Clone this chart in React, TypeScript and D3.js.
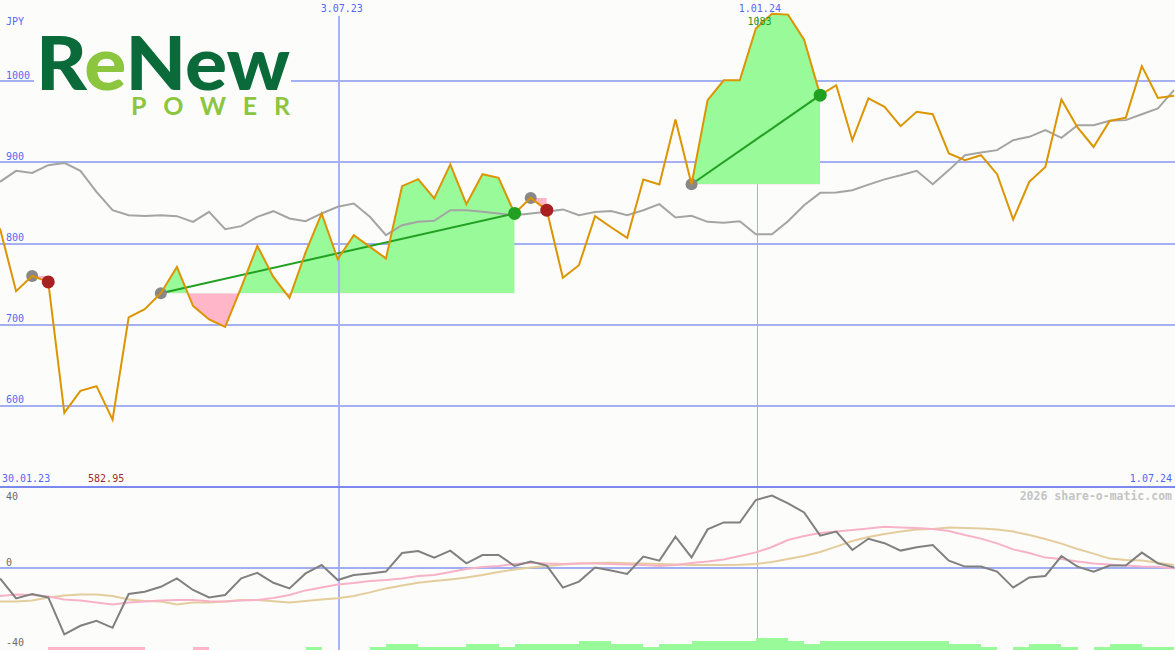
import React from "react";
import * as d3 from "d3";

const W = 1175;
const H = 650;
const BG = "#fcfdfb";

// weekly dates (Mondays)
const firstWeek = new Date(2023, 1, 6);
const lastWeek = new Date(2024, 6, 1);
const weeks: Date[] = d3.timeMonday.range(firstWeek, d3.timeDay.offset(lastWeek, 1));

// weekly close, JPY
const price = [
  818.5, 741.3, 760, 752.7, 591.4, 618.5, 624.2, 582.95, 708.9, 719.1,
  738.8, 771.2, 723.2, 706.5, 697.3, 745.8, 797.1, 758.9, 733, 789,
  837, 780.7, 810.3, 795.9, 781.6, 870.6, 879.3, 855.5, 897.4, 848.5,
  885.4, 880.9, 837, 856.2, 841.1, 757.7, 773.3, 833.7, 820, 807,
  878.9, 872.7, 952.8, 873, 976.6, 1001, 1001, 1064.9, 1083, 1082,
  1051, 982.8, 995, 927.3, 978.7, 968.3, 944.6, 962.2, 959.3, 910.9,
  902.7, 908.8, 885.4, 829.6, 876, 894.4, 977.4, 943, 919, 951.1,
  954.8, 1018.5, 979.4, 981.9,
];

// long moving average (gray)
const average = [
  876, 889.5, 887, 896.5, 899.3, 889.5, 863.6, 841, 834.9, 834,
  834.9, 833.7, 826.7, 839, 817.7, 821.4, 832.9, 839.8, 830.8, 827.5,
  837, 845.2, 849.3, 832.9, 810.3, 822.6, 826.7, 827.9, 841, 841,
  839, 837, 834.9, 837, 839, 842, 834.9, 838.8, 839.9, 834.9,
  841, 848.5, 832.1, 834.1, 826.7, 825.5, 827.5, 811.5, 811.5, 827.5,
  847.2, 862.4, 862.7, 865.7, 872.5, 879, 884, 889.5, 873, 890.4,
  908.8, 912.2, 915, 927.3, 931.4, 939.6, 930.1, 945.8, 945.8, 951.1,
  952, 959.3, 966.4, 988.9,
];

// oscillator panel
const momentum = [
  -5.2, -15.2, -13, -14.7, -33.2, -28.9, -26.4, -29.9, -13, -11.9,
  -9.4, -5.2, -11, -14.7, -13.5, -5.2, -2.4, -7.4, -10.2, -2.7,
  1.5, -6, -3.5, -2.7, -1.8, 7.5, 8.5, 5.2, 8.7, 2.3,
  6.5, 6.5, 1, 3.2, 1.2, -9.8, -6.8, 0.2, -1.3, -3,
  5.7, 3.7, 15.7, 5.3, 19.3, 22.8, 22.7, 34, 36.2, 32.3,
  27.8, 16.2, 18.2, 9, 14.6, 12.4, 8.7, 10.4, 11.5, 3.7,
  0.7, 0.7, -1.8, -9.8, -4.7, -4, 6, 0.7, -1.8, 1.2,
  1.2, 7.7, 2.3, 0.3,
];
const fastSignal = [
  -14, -13.3, -13.5, -14.3, -15.7, -16.3, -17.3, -18.3, -17.3, -16.8,
  -16.3, -16, -16, -16.6, -16.8, -16.3, -16, -15, -13.5, -11.2,
  -9.7, -8.2, -7.5, -6.5, -6, -5.2, -4, -3.5, -2, -0.5,
  0.5, 1, 2, 2.6, 2.2, 2, 2.2, 2.3, 2, 1.8,
  1.5, 1, 1.5, 2.5, 3.2, 4.2, 6, 7.8, 10.5, 14,
  16, 17.5, 18.2, 19, 19.8, 20.6, 20.3, 20, 19.5, 18.5,
  16.5, 14.7, 12.3, 9.3, 7.5, 5.2, 4.5, 3.3, 2.3, 1.7,
  1.2, 0.8, 0.6, -0.2,
];
const slowSignal = [
  -16.8, -16.8, -16.3, -14.8, -13.8, -13.3, -13.3, -14, -15.7, -16.5,
  -16.8, -18.2, -17.3, -17.2, -16.8, -16, -16, -16.6, -17.2, -16.5,
  -15.8, -15.1, -14, -12.2, -10.2, -8.7, -7.4, -6.5, -5.7, -4.8,
  -3.5, -2, -0.7, 0.2, 1, 1.7, 2.2, 2.5, 2.6, 2.4,
  2.2, 2, 1.8, 1.5, 1.5, 1.5, 1.6, 2, 3, 4.5,
  6, 8, 10.7, 13.5, 15.5, 17, 18.3, 19.2, 19.5, 20.2,
  20, 19.8, 19.2, 18.2, 16.5, 14.5, 12.2, 9.5, 7.2, 4.7,
  4, 3.7, 2.6, 1.5,
];
// trend strength per week interval (+ green, - pink)
const trendBars = [
  0, 0, 0, -1, -1, -1, -1, -1, -1, 0, 0, 0, -1, 0, 0, 0, 0, 0, 0, 1,
  0, 0, 0, 1, 2, 2, 1, 1, 1, 2, 2, 1, 2, 2, 2, 2, 3, 3, 2, 2,
  1, 2, 2, 3, 3, 3, 3, 4, 4, 3, 2, 3, 3, 3, 3, 3, 3, 3, 3, 2,
  2, 1, 0, 1, 2, 2, 1, 0, 1, 2, 2, 1, 1,
];

// signals (week indices)
const signalStart = [2, 10, 33, 43];
const signalEnd = [3, 32, 34, 51];

const priceTicks = [600, 700, 800, 900, 1000];
const oscTicks = [40, 0, -40];
const dateLines = [new Date(2023, 6, 3), new Date(2024, 0, 1)];
const dateLineLabels = ["3.07.23", "1.01.24"];
const rangeLabels = ["30.01.23", "1.07.24"];

const MONO = "'DejaVu Sans Mono', monospace";

export default function App() {
  const x = d3.scaleTime().domain([firstWeek, lastWeek]).range([0, 1174]);
  const yP = d3.scaleLinear().domain([500, 1100]).range([487, 0]);
  const yO = d3.scaleLinear().domain([-40, 40]).range([648, 488]);
  const yB = d3.scaleLinear().domain([0, 4]).range([650, 638]);

  const pts = weeks.map((d, i) => ({ d, v: price[i] }));
  const priceLine = d3.line<{ d: Date; v: number }>().x((p) => x(p.d)).y((p) => yP(p.v));
  const avgLine = d3
    .line<number>()
    .x((_, i) => x(weeks[i]))
    .y((v) => yP(v));
  const oscLine = d3
    .line<number>()
    .x((_, i) => x(weeks[i]))
    .y((v) => yO(v));

  const iMax = d3.maxIndex(price);
  const iMin = d3.minIndex(price);

  const signals = signalStart.map((s, k) => {
    const e = signalEnd[k];
    const xs = x(weeks[s]);
    const xe = x(weeks[e]);
    const base = yP(price[s]);
    const gain = price[e] > price[s];
    const area = d3
      .area<{ d: Date; v: number }>()
      .x((p) => x(p.d))
      .y0(base)
      .y1((p) => yP(p.v))(pts.slice(s, e + 1));
    return { s, e, xs, xe, base, gain, area, yEnd: yP(price[e]) };
  });

  return (
    <svg
      width={W}
      height={H}
      style={{ position: "absolute", left: 0, top: 0, display: "block" }}
    >
      <defs>
        {signals.map((g, k) => (
          <React.Fragment key={k}>
            <clipPath id={`up${k}`}>
              <rect x={g.xs} y={0} width={g.xe - g.xs} height={g.base} />
            </clipPath>
            <clipPath id={`dn${k}`}>
              <rect x={g.xs} y={g.base} width={g.xe - g.xs} height={487 - g.base} />
            </clipPath>
          </React.Fragment>
        ))}
      </defs>
      <rect width={W} height={H} fill={BG} />

      {/* price grid */}
      {priceTicks.map((t) => (
        <line
          key={t}
          x1={0}
          x2={W}
          y1={Math.round(yP(t))}
          y2={Math.round(yP(t))}
          stroke="#a4b0f2"
          strokeWidth={2}
          shapeRendering="crispEdges"
        />
      ))}

      {/* year line (thin) */}
      <line
        x1={Math.round(x(dateLines[1])) + 1.5}
        x2={Math.round(x(dateLines[1])) + 1.5}
        y1={16}
        y2={H}
        stroke="#a6ade4"
        strokeWidth={1}
      />

      {/* signal fills */}
      {signals.map((g, k) => (
        <g key={k}>
          <path d={g.area || ""} fill="#98fa98" clipPath={`url(#up${k})`} />
          <path d={g.area || ""} fill="#ffb6c8" clipPath={`url(#dn${k})`} />
        </g>
      ))}

      {/* half-year line */}
      <line
        x1={Math.round(x(dateLines[0])) + 1}
        x2={Math.round(x(dateLines[0])) + 1}
        y1={16}
        y2={H}
        stroke="#a8b3f4"
        strokeWidth={2}
        shapeRendering="crispEdges"
      />

      {/* moving average */}
      <path d={avgLine(average) || ""} fill="none" stroke="#a4a4a4" strokeWidth={2} />

      {/* trend lines */}
      {signals
        .filter((g) => g.gain)
        .map((g, k) => (
          <line key={k} x1={g.xs} y1={g.base} x2={g.xe} y2={g.yEnd} stroke="#22a022" strokeWidth={2} />
        ))}

      {/* start dots under the line */}
      {signals.map((g, k) => (
        <circle key={k} cx={g.xs} cy={g.base} r={6} fill="#888888" />
      ))}

      {/* price */}
      <path d={priceLine(pts) || ""} fill="none" stroke="#dc9400" strokeWidth={2} strokeLinejoin="miter" />

      {/* end dots */}
      {signals.map((g, k) => (
        <circle key={k} cx={g.xe} cy={g.yEnd} r={6.5} fill={g.gain ? "#22a022" : "#a82020"} />
      ))}

      {/* logo */}
      <rect x={34} y={30} width={257} height={92} fill={BG} />
      <text fontFamily="Lato, 'Noto Sans', sans-serif">
        <tspan
          x={36}
          y={90}
          fontWeight={900}
          fontSize={74}
          textLength={254}
          lengthAdjust="spacingAndGlyphs"
          fill="#0b6a3a"
        >
          R<tspan fill="#8cc63f">e</tspan>New
        </tspan>
        <tspan
          x={131}
          y={115}
          fontWeight={700}
          fontSize={25}
          textLength={159}
          lengthAdjust="spacing"
          fill="#8cc63f"
        >
          POWER
        </tspan>
      </text>

      {/* price axis labels */}
      <text x={6} y={25} fontFamily={MONO} fontSize={10} fill="#5566f4">
        JPY
      </text>
      {priceTicks.map((t) => (
        <text key={t} x={6} y={yP(t) - 2.5} fontFamily={MONO} fontSize={10} fill="#5566f4">
          {t}
        </text>
      ))}
      {dateLines.map((d, i) => (
        <text
          key={i}
          x={x(d) + 4}
          y={12}
          textAnchor="middle"
          fontFamily={MONO}
          fontSize={10}
          fill="#5566f4"
        >
          {dateLineLabels[i]}
        </text>
      ))}
      <text x={x(weeks[iMax]) - 24.5} y={25} fontFamily={MONO} fontSize={10} fill="#229922">
        {d3.format(".0f")(price[iMax])}
      </text>

      {/* separator */}
      <line x1={0} x2={W} y1={487} y2={487} stroke="#7a88f0" strokeWidth={2} shapeRendering="crispEdges" />
      <text x={2} y={482} fontFamily={MONO} fontSize={10} fill="#5566f4">
        {rangeLabels[0]}
      </text>
      <text x={x(weeks[iMin]) - 24.5} y={482} fontFamily={MONO} fontSize={10} fill="#a02828">
        {d3.format(".2f")(price[iMin])}
      </text>
      <text x={1172} y={482} textAnchor="end" fontFamily={MONO} fontSize={10} fill="#5566f4">
        {rangeLabels[1]}
      </text>
      <text
        x={1172}
        y={500}
        textAnchor="end"
        fontFamily={MONO}
        fontWeight={700}
        fontSize={11.5}
        fill="#c4c4c4"
      >
        2026 share-o-matic.com
      </text>

      {/* oscillator panel */}
      <line
        x1={0}
        x2={W}
        y1={yO(0)}
        y2={yO(0)}
        stroke="#a2aef2"
        strokeWidth={2}
        shapeRendering="crispEdges"
      />
      {trendBars.map((b, i) =>
        b === 0 ? null : (
          <rect
            key={i}
            x={x(weeks[i])}
            y={yB(Math.abs(b))}
            width={x(weeks[i + 1]) - x(weeks[i])}
            height={yB(0) - yB(Math.abs(b))}
            fill={b > 0 ? "#98fa98" : "#ffb6c8"}
            shapeRendering="crispEdges"
          />
        )
      )}
      <path d={oscLine(slowSignal) || ""} fill="none" stroke="#e4cc9c" strokeWidth={2} />
      <path d={oscLine(fastSignal) || ""} fill="none" stroke="#f8b2c8" strokeWidth={2} />
      <path d={oscLine(momentum) || ""} fill="none" stroke="#808080" strokeWidth={2} />
      {oscTicks.map((t) => (
        <text
          key={t}
          x={6}
          y={Math.max(yO(t) - 2.5, 499.5)}
          fontFamily={MONO}
          fontSize={10}
          fill="#6a6a6a"
        >
          {t}
        </text>
      ))}
    </svg>
  );
}
